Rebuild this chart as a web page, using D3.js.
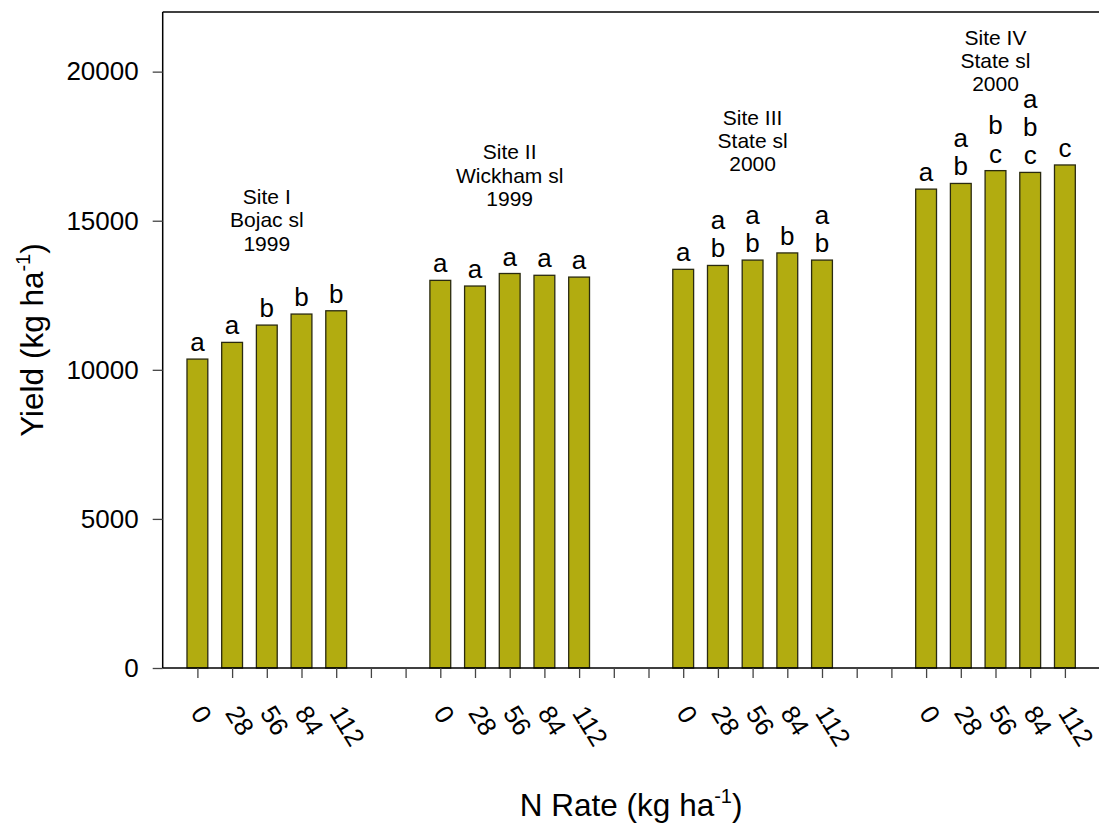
<!DOCTYPE html>
<html>
<head>
<meta charset="utf-8">
<script src="https://cdn.jsdelivr.net/npm/d3@7"></script>
<style>
  html, body { margin: 0; padding: 0; background: #ffffff; }
  svg { display: block; font-family: "Liberation Sans", Arial, sans-serif; }
</style>
</head>
<body>
<svg id="chart" width="1099" height="826"></svg>
<script>
// ---- data ----
const nRates = ["0", "28", "56", "84", "112"];
const sites = ["Site I", "Site II", "Site III", "Site IV"];
const siteSoils = ["Bojac sl", "Wickham sl", "State sl", "State sl"];
const siteYears = ["1999", "1999", "2000", "2000"];
const yieldSiteI   = [10360, 10920, 11500, 11870, 11980];
const yieldSiteII  = [13000, 12810, 13230, 13170, 13110];
const yieldSiteIII = [13370, 13500, 13680, 13920, 13680];
const yieldSiteIV  = [16060, 16250, 16680, 16620, 16870];
const lettersSiteI   = [["a"], ["a"], ["b"], ["b"], ["b"]];
const lettersSiteII  = [["a"], ["a"], ["a"], ["a"], ["a"]];
const lettersSiteIII = [["a"], ["a","b"], ["a","b"], ["b"], ["a","b"]];
const lettersSiteIV  = [["a"], ["a","b"], ["b","c"], ["a","b","c"], ["c"]];
// y value (data units) of the last line of each site annotation
const siteLabelAnchor = [14000, 15500, 16660, 19340];
const yTicks = [0, 5000, 10000, 15000, 20000];

const yields = [yieldSiteI, yieldSiteII, yieldSiteIII, yieldSiteIV];
const letters = [lettersSiteI, lettersSiteII, lettersSiteIII, lettersSiteIV];

// slot layout: 5 bars per site + 2 empty slots between sites
const slotsPerSite = nRates.length + 2;
const bars = [];
sites.forEach((s, si) => {
  nRates.forEach((r, ri) => {
    bars.push({ site: si, rate: r, slot: 1 + si * slotsPerSite + ri,
                value: yields[si][ri], letters: letters[si][ri] });
  });
});
const nSlots = sites.length * slotsPerSite - 1; // 27

// ---- layout ----
const svg = d3.select("#chart");
const pLeft = 162.7, pRight = 1099.6, pTop = 12, pBottom = 668;
const x = d3.scaleLinear().domain([0, nSlots]).range([pLeft, pRight]);
const y = d3.scaleLinear().domain([0, 22000]).range([pBottom, pTop]);
const step = x(1) - x(0);
const barW = step * 0.6;
const font = '"Liberation Sans", Arial, sans-serif';

// frame: top line
svg.append("line")
  .attr("x1", pLeft).attr("x2", 1099).attr("y1", pTop).attr("y2", pTop)
  .attr("stroke", "#000").attr("stroke-width", 1.5);

// bars
svg.append("g").selectAll("rect").data(bars).join("rect")
  .attr("x", d => x(d.slot) - barW / 2)
  .attr("y", d => y(d.value))
  .attr("width", barW)
  .attr("height", d => y(0) - y(d.value))
  .attr("fill", "#b2ac10")
  .attr("stroke", "#2a2a10")
  .attr("stroke-width", 1.3);

// y axis
const yAxis = d3.axisLeft(y).tickValues(yTicks).tickSize(10).tickPadding(14)
  .tickFormat(d3.format("d"));
const gy = svg.append("g").attr("transform", `translate(${pLeft},0)`).call(yAxis);
gy.select(".domain").attr("d", `M0,${pBottom}V${pTop}`).attr("stroke", "#000").attr("stroke-width", 1.5);
gy.selectAll(".tick line").attr("stroke", "#444").attr("stroke-width", 1.3);
gy.selectAll(".tick text").attr("font-size", 26).attr("font-family", font).attr("fill", "#000");

// x axis
const tickSlots = d3.range(1, nSlots);
const xAxis = d3.axisBottom(x).tickValues(tickSlots).tickSize(10).tickFormat("");
const gx = svg.append("g").attr("transform", `translate(0,${pBottom})`).call(xAxis);
gx.select(".domain").attr("d", `M${pLeft},0H${1099}`).attr("stroke", "#000").attr("stroke-width", 1.5);
gx.selectAll(".tick line").attr("stroke", "#444").attr("stroke-width", 1.3);

// rotated rate labels
svg.append("g").selectAll("text").data(bars).join("text")
  .attr("transform", d => `translate(${x(d.slot) - 7.5},${pBottom + 45}) rotate(58)`)
  .attr("font-size", 26).attr("font-family", font)
  .text(d => d.rate);

// significance letters
const lg = svg.append("g");
bars.forEach(b => {
  const n = b.letters.length;
  b.letters.forEach((L, i) => {
    lg.append("text")
      .attr("x", x(b.slot))
      .attr("y", y(b.value) - 8 - (n - 1 - i) * 28.3)
      .attr("text-anchor", "middle")
      .attr("font-size", 26).attr("font-family", font)
      .text(L);
  });
});

// site annotations, centered on the middle bar of each site
sites.forEach((s, si) => {
  const cx = x(1 + si * slotsPerSite + 2);
  const base = y(siteLabelAnchor[si]);
  const lines = [s, siteSoils[si], siteYears[si]];
  lines.forEach((t, i) => {
    svg.append("text")
      .attr("x", cx).attr("y", base - (2 - i) * 23.2)
      .attr("text-anchor", "middle")
      .attr("font-size", 21).attr("font-family", font)
      .text(t);
  });
});

// axis titles
const yt = svg.append("text")
  .attr("transform", `translate(43,${(pTop + pBottom) / 2}) rotate(-90)`)
  .attr("text-anchor", "middle").attr("font-size", 31.5).attr("font-family", font);
yt.append("tspan").text("Yield (kg ha");
yt.append("tspan").attr("font-size", 20).attr("dy", -13).text("-1");
yt.append("tspan").attr("dy", 13).text(")");

const xt = svg.append("text")
  .attr("x", (pLeft + pRight) / 2).attr("y", 816)
  .attr("text-anchor", "middle").attr("font-size", 31.5).attr("font-family", font);
xt.append("tspan").text("N Rate (kg ha");
xt.append("tspan").attr("font-size", 20).attr("dy", -13).text("-1");
xt.append("tspan").attr("dy", 13).text(")");
</script>
</body>
</html>
